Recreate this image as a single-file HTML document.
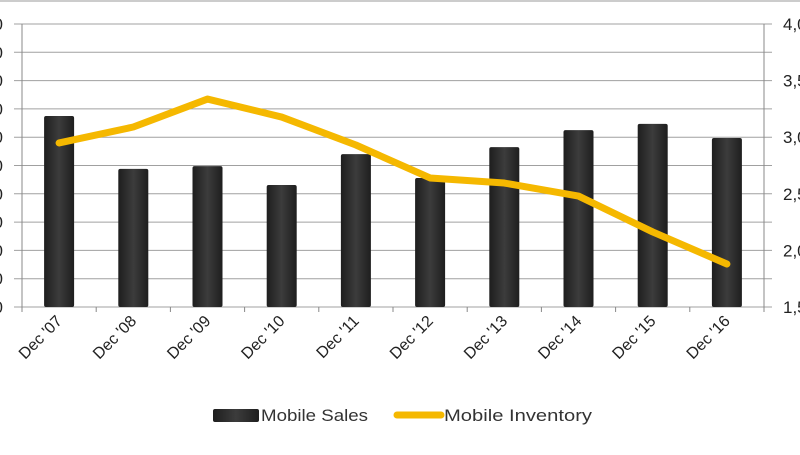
<!DOCTYPE html>
<html><head><meta charset="utf-8"><style>
body{margin:0;background:#fff;}
svg text{font-family:"Liberation Sans",sans-serif;}
</style></head><body>
<svg width="800" height="450" xmlns="http://www.w3.org/2000/svg">
<defs>
<linearGradient id="bg" x1="0" x2="1" y1="0" y2="0">
<stop offset="0" stop-color="#1e1e1e"/><stop offset="0.5" stop-color="#3c3c3c"/><stop offset="1" stop-color="#1e1e1e"/>
</linearGradient>
</defs>
<line x1="0" y1="1" x2="800" y2="1" stroke="#999"/>
<g id="grid"></g><g id="bars"></g><g id="line"></g><g id="axes"></g>
<g>
<rect x="213" y="409" width="46" height="13" rx="2" fill="url(#bg)"/>
<text x="261" y="421" font-size="17" fill="#333" textLength="107" lengthAdjust="spacingAndGlyphs">Mobile Sales</text>
<line x1="397" y1="415" x2="441" y2="415" stroke="#f5b800" stroke-width="7" stroke-linecap="round"/>
<text x="444" y="421" font-size="17" fill="#333" textLength="148" lengthAdjust="spacingAndGlyphs">Mobile Inventory</text>
</g>
</svg>
<script>
const categories=["Dec '07","Dec '08","Dec '09","Dec '10","Dec '11","Dec '12","Dec '13","Dec '14","Dec '15","Dec '16"];
const salesValues=[675,488,498,431,540,456,565,625,647,597];
const inventoryValues=[2949,3090,3337,3178,2931,2640,2595,2480,2163,1880];
const leftTicks=[0,100,200,300,400,500,600,700,800,900,1000];
const leftTickLabels=["0","100","200","300","400","500","600","700","800","900","1,000"];
const rightTicks=[1500,2000,2500,3000,3500,4000];
const rightTickLabels=["1,500","2,000","2,500","3,000","3,500","4,000"];
const NS="http://www.w3.org/2000/svg";
const X0=22,X1=764,Y0=307,Y1=24;
const band=(X1-X0)/categories.length;
const xc=i=>X0+band*(i+0.5);
const yL=v=>Y0-(v-0)/(1000)*(Y0-Y1);
const yR=v=>Y0-(v-1500)/(2500)*(Y0-Y1);
function mk(t,a,p){const e=document.createElementNS(NS,t);for(const k in a)e.setAttribute(k,a[k]);p.appendChild(e);return e;}
const grid=document.getElementById('grid'),bars=document.getElementById('bars'),line=document.getElementById('line'),axes=document.getElementById('axes');
leftTicks.forEach((t,i)=>{const y=yL(t);
const g=mk('line',{x1:X0-8,y1:y,x2:X1+8,y2:y,stroke:'#a0a0a0','stroke-width':1},grid);

const tx=mk('text',{x:3,y:y+6,'font-size':17,'text-anchor':'end',fill:'#222'},axes);tx.textContent=leftTickLabels[i];
});
rightTicks.forEach((t,i)=>{const y=yR(t);
const tx=mk('text',{x:783,y:y+6,'font-size':17,fill:'#222'},axes);tx.textContent=rightTickLabels[i];
});
const ax1=mk('line',{x1:X0,y1:Y1,x2:X0,y2:Y0+5,stroke:'#888'},axes);
const ax2=mk('line',{x1:X1,y1:Y1,x2:X1,y2:Y0+5,stroke:'#888'},axes);
for(let i=0;i<=categories.length;i++){const x=X0+band*i;const tk=mk('line',{x1:x,y1:Y0,x2:x,y2:Y0+5,stroke:'#888'},axes);}
categories.forEach((c,i)=>{const x=xc(i);
const b=mk('rect',{x:x-15,y:yL(salesValues[i]),width:30,height:Y0-yL(salesValues[i]),rx:2,fill:'url(#bg)'},bars);

const tx=mk('text',{x:x+4,y:322,'font-size':16,'text-anchor':'end',fill:'#222',transform:`rotate(-45 ${x+4} 322)`},axes);tx.textContent=c;
});
const pts=inventoryValues.map((v,i)=>xc(i)+','+yR(v)).join(' ');
const pl=mk('polyline',{points:pts,fill:'none',stroke:'#f5b800','stroke-width':7,'stroke-linejoin':'round','stroke-linecap':'round'},line);

</script>
</body></html>
